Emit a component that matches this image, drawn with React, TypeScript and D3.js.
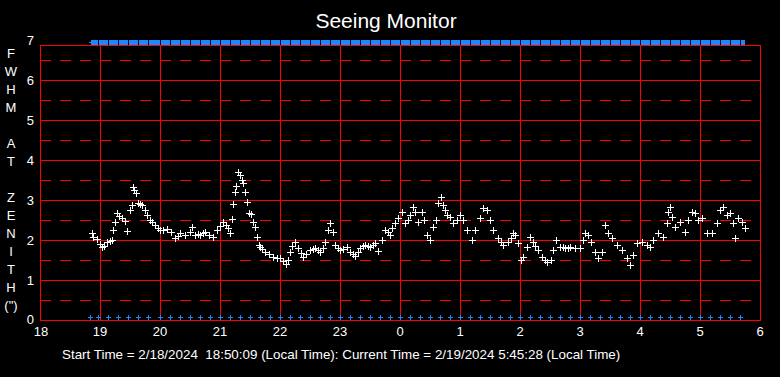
import React from "react";
import * as d3 from "d3";

// minutes after 18:00 (local time) and FWHM at zenith (arcsec)
const seeingMinutes = [
  52, 53, 57, 60, 62, 64, 67, 70, 72, 73, 75, 77, 79, 82, 85, 87, 90, 92, 93, 94, 96, 98, 100, 102, 105, 107, 110, 112, 115, 118,
  120, 123, 127, 131, 135, 138, 140, 145, 150, 152, 155, 158, 160, 163, 165, 169, 173, 177, 180, 183, 186, 188, 190, 192, 193, 195,
  196, 198, 200, 202, 203, 205, 207, 209, 211, 213, 215, 217, 219,
  220, 222, 225, 229, 233, 237, 240, 243, 246, 248, 250, 252, 255, 258, 261, 263, 266, 270, 273, 275, 278, 280, 283, 285, 288, 290,
  293, 295, 298, 300, 303, 307, 310, 313, 315, 318, 320, 323, 325, 328, 330, 333, 335, 338, 342, 345, 348, 350, 352, 355, 358, 362,
  365, 368, 370, 373, 375, 378, 382, 384, 387, 390, 393, 396, 398, 401, 403, 405, 407, 410, 413, 417, 420, 423, 427, 432, 435, 440,
  443, 447, 450, 453, 458, 461, 463, 468, 471, 473, 475, 478, 481, 483, 487, 490, 493, 495, 498, 502, 505, 507, 511, 513, 516, 520,
  523, 525, 528, 530, 535, 540, 543, 545, 548, 551, 555, 558, 562, 565, 568, 572, 577, 582, 587, 590, 593, 597, 602, 607, 610, 613,
  618, 623, 627, 628, 630, 632, 635, 640, 645, 648, 652, 655, 658, 662, 667, 672, 677, 680, 683, 687, 690, 693, 695, 698, 702, 705,
];
const seeingValues = [
  2.17, 2.08, 2.02, 1.9, 1.82, 1.85, 1.96, 1.98, 2.0, 2.25, 2.46, 2.67, 2.6, 2.54, 2.48, 2.22, 2.75, 2.87, 3.33, 3.25, 3.17, 2.93, 2.9, 2.87, 2.75, 2.62, 2.5, 2.45, 2.37, 2.3,
  2.25, 2.24, 2.27, 2.2, 2.04, 2.1, 2.17, 2.12, 2.2, 2.33, 2.12, 2.15, 2.12, 2.18, 2.21, 2.12, 2.07, 2.25, 2.35, 2.46, 2.38, 2.29, 2.17, 2.52, 2.89, 3.19,
  3.35, 3.71, 3.62, 3.5, 3.42, 3.19, 2.96, 2.67, 2.65, 2.46, 2.33, 2.08, 1.87,
  1.83, 1.78, 1.71, 1.65, 1.58, 1.56, 1.54, 1.48, 1.4, 1.5, 1.71, 1.85, 1.96, 1.79, 1.68, 1.58, 1.65, 1.75, 1.78, 1.79, 1.75, 1.71, 1.8, 1.96, 2.25, 2.42,
  2.21, 1.87, 1.8, 1.75, 1.78, 1.82, 1.71, 1.65, 1.6, 1.7, 1.79, 1.85, 1.87, 1.85, 1.82, 1.88, 1.92, 1.73, 2.0, 2.25, 2.2, 2.12, 2.3, 2.42, 2.55, 2.71,
  2.42, 2.5, 2.62, 2.83, 2.7, 2.46, 2.71, 2.5, 2.12, 2.0, 2.33, 2.5, 2.92, 3.07, 2.87, 2.75, 2.62, 2.58, 2.42, 2.5, 2.62, 2.5, 2.25, 2.0, 2.25, 2.54,
  2.79, 2.75, 2.5, 2.25, 2.04, 1.95, 1.87, 1.96, 2.05, 2.17, 2.12, 1.92, 1.5, 1.58, 1.83, 2.08, 1.96, 1.85, 1.75, 1.58, 1.5, 1.46, 1.5, 1.75, 2.0, 1.83,
  1.82, 1.79, 1.8, 1.83, 1.79, 1.79, 2.0, 2.17, 2.12, 1.96, 1.71, 1.54, 1.71, 2.37, 2.17, 2.04, 1.87, 1.75, 1.54, 1.37, 1.62, 1.92, 1.96, 1.87, 1.83, 2.0,
  2.17, 2.08, 2.42, 2.71, 2.83, 2.58, 2.33, 2.46, 2.21, 2.5, 2.71, 2.67, 2.5, 2.54, 2.17, 2.17, 2.42, 2.75, 2.83, 2.62, 2.67, 2.42, 2.04, 2.54, 2.46, 2.29,
];
// status markers (minutes after 18:00)
const statusMinutes = [
  50, 58, 68, 78, 88, 98, 108, 120, 130, 140, 150, 160, 170, 180, 190, 200, 210, 220, 230, 240, 250, 260, 270, 280, 290, 300,
  310, 320, 330, 340, 350, 360, 370, 380, 390, 400, 410, 420, 430, 440, 450, 460, 470, 480, 490, 500, 510, 520, 530, 540, 550,
  560, 570, 580, 590, 600, 610, 620, 630, 640, 650, 660, 670, 680, 690, 700,
];
const currentMinute = 705;

const yTicks = [0, 1, 2, 3, 4, 5, 6, 7];
const yHalfTicks = [0.5, 1.5, 2.5, 3.5, 4.5, 5.5, 6.5];
const hourTicks = [18, 19, 20, 21, 22, 23, 24, 25, 26, 27, 28, 29, 30];
const hourLabels = ["18", "19", "20", "21", "22", "23", "0", "1", "2", "3", "4", "5", "6"];
const yTitleLetters = ["F", "W", "H", "M", "", "A", "T", "", "Z", "E", "N", "I", "T", "H", "(\")"];

const title = "Seeing Monitor";
const footer = "Start Time = 2/18/2024  18:50:09 (Local Time): Current Time = 2/19/2024 5:45:28 (Local Time)";

const W = 780;
const H = 377;
const FONT = "'Liberation Sans', Arial, sans-serif";
const RED = "#ff0000";
const BLUE = "#1a88ff";

export default function App() {
  const x = d3.scaleLinear().domain([18, 30]).range([40, 760]);
  const y = d3.scaleLinear().domain([0, 7]).range([320, 40]);
  const plotTop = 45;
  const plotBottom = y(0);
  const xm = (m: number) => x(18 + m / 60);

  const cross = (cx: number, cy: number, r: number, color: string, key: string) => (
    <g key={key} stroke={color} strokeWidth={1} shapeRendering="crispEdges">
      <line x1={Math.round(cx) - r} x2={Math.round(cx) + r + 1} y1={Math.round(cy) + 0.5} y2={Math.round(cy) + 0.5} />
      <line x1={Math.round(cx) + 0.5} x2={Math.round(cx) + 0.5} y1={Math.round(cy) - r} y2={Math.round(cy) + r + 1} />
    </g>
  );

  return (
    <div style={{ position: "fixed", left: 0, top: 0, width: W, height: H, background: "#000" }}>
      <svg width={W} height={H} style={{ display: "block", background: "#000" }}>
        <text x={386} y={28} fill="#fff" fontFamily={FONT} fontSize={21} textAnchor="middle">
          {title}
        </text>

        {/* dashed half-unit gridlines */}
        {yHalfTicks.map((v) => (
          <line key={"h" + v} x1={x(18)} x2={x(30)} y1={Math.round(y(v)) + 0.5} y2={Math.round(y(v)) + 0.5}
            stroke={RED} strokeWidth={1} strokeDasharray="11,9" shapeRendering="crispEdges" />
        ))}
        {/* solid integer gridlines */}
        {yTicks.filter((v) => v > 0 && v < 7).map((v) => (
          <line key={"g" + v} x1={x(18)} x2={x(30)} y1={Math.round(y(v)) + 0.5} y2={Math.round(y(v)) + 0.5}
            stroke={RED} strokeWidth={1} shapeRendering="crispEdges" />
        ))}
        {hourTicks.map((h) => (
          <line key={"v" + h} x1={Math.round(x(h)) + 0.5} x2={Math.round(x(h)) + 0.5} y1={plotTop} y2={plotBottom}
            stroke={RED} strokeWidth={1} shapeRendering="crispEdges" />
        ))}
        <rect x={x(18) + 0.5} y={plotTop + 0.5} width={x(30) - x(18)} height={plotBottom - plotTop}
          fill="none" stroke={RED} strokeWidth={1} shapeRendering="crispEdges" />

        {/* y tick labels */}
        {yTicks.map((v) => (
          <text key={"yl" + v} x={34} y={y(v) + (v === 0 ? 4 : 5)} fill="#fff" fontFamily={FONT} fontSize={13} textAnchor="end">
            {v}
          </text>
        ))}
        {/* vertical y title */}
        {yTitleLetters.map((c, i) => (
          <text key={"yt" + i} x={11} y={58 + i * 18} fill="#fff" fontFamily={FONT} fontSize={13} textAnchor="middle">
            {c}
          </text>
        ))}
        {/* x tick labels */}
        {hourTicks.map((h, i) => (
          <text key={"xl" + h} x={x(h) + (i === 0 ? 1 : 0)} y={336} fill="#fff" fontFamily={FONT} fontSize={13} textAnchor="middle">
            {hourLabels[i]}
          </text>
        ))}

        {/* top status bar */}
        <line x1={xm(statusMinutes[0]) - 1} x2={xm(statusMinutes[0]) + 1} y1={42.5} y2={42.5} stroke={BLUE} strokeWidth={1} />
        {statusMinutes.map((m, i) => {
          const next = i < statusMinutes.length - 1 ? statusMinutes[i + 1] : currentMinute;
          const x0 = Math.round(xm(m)) + 1;
          const x1 = Math.round(xm(next));
          return <rect key={"sb" + i} x={x0} y={40} width={Math.max(1, x1 - x0)} height={5} fill={BLUE} />;
        })}
        {/* bottom status markers */}
        {statusMinutes.map((m, i) => cross(xm(m), 317, 2, BLUE, "bm" + i))}

        {/* seeing data */}
        {seeingMinutes.map((m, i) => cross(xm(m), y(seeingValues[i]), 3, "#fff", "sd" + i))}

        <text x={62} y={359} fill="#fff" fontFamily={FONT} fontSize={13.4} style={{ whiteSpace: "pre" }}>
          {footer}
        </text>
      </svg>
    </div>
  );
}
